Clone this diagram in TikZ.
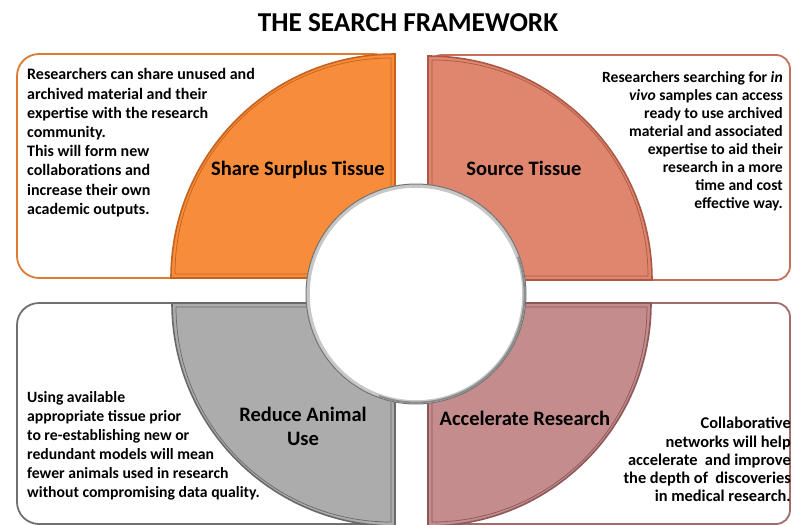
\documentclass[tikz,border=0pt]{standalone}
\usepackage{fontspec}
\setmainfont{Carlito}
\definecolor{orfill}{RGB}{247,140,58}
\definecolor{orline}{RGB}{196,98,30}
\definecolor{orbox}{RGB}{222,122,52}
\definecolor{safill}{RGB}{224,134,110}
\definecolor{saline}{RGB}{170,88,68}
\definecolor{sabox}{RGB}{198,112,92}
\definecolor{grfill}{RGB}{172,172,172}
\definecolor{grline}{RGB}{105,105,105}
\definecolor{grbox}{RGB}{112,112,112}
\definecolor{mafill}{RGB}{196,140,140}
\definecolor{maline}{RGB}{140,88,88}
\definecolor{mabox}{RGB}{160,108,108}
\begin{document}
\begin{tikzpicture}[x=1pt,y=-1pt,
  outerbox/.style={line width=1.8pt, fill=white},
  quadrant/.style={line width=1.6pt},
  bevelline/.style={line width=0.7pt},
  bodytext/.style={inner sep=0pt, font=\bfseries\fontsize{16}{19.2}\selectfont},
  bodytextr/.style={inner sep=0pt, font=\bfseries\fontsize{15.6}{18}\selectfont},
  labeltext/.style={inner sep=0pt, font=\bfseries\fontsize{20.5}{24}\selectfont}]
\useasboundingbox (0,0) rectangle (793,525);
\clip (0,0) rectangle (793,525);
\fill[white] (0,0) rectangle (793,525);

% title
\node[inner sep=0pt, anchor=base, font=\bfseries\fontsize{27.3}{31}\selectfont] (title) at (408,31) {THE SEARCH FRAMEWORK};

% outer boxes
\draw[outerbox, draw=orbox, rounded corners=22pt] (17,54) rectangle (395,278);
\draw[outerbox, draw=sabox, rounded corners=14pt] (428,55) rectangle (790,280);
\draw[outerbox, draw=grbox, rounded corners=22pt] (17,303) rectangle (395,524);
\draw[outerbox, draw=mabox, rounded corners=14pt] (428,303) rectangle (790,524);

% quadrants
\draw[quadrant, fill=orfill, draw=orline] (395,278) -- (171,278) arc[start angle=180, end angle=270, radius=224] -- cycle;
\draw[bevelline, draw=orline] (391,274) -- (175,274) arc[start angle=180, end angle=270, radius=216] -- cycle;

\draw[quadrant, fill=safill, draw=saline] (428,280) -- (428,56) arc[start angle=270, end angle=360, radius=224] -- cycle;
\draw[bevelline, draw=saline] (432,276) -- (432,60) arc[start angle=270, end angle=360, radius=216] -- cycle;

\draw[quadrant, fill=grfill, draw=grline] (395,303) -- (172,303) arc[start angle=180, end angle=90, radius=223] -- cycle;
\draw[bevelline, draw=grline] (391,307) -- (176,307) arc[start angle=180, end angle=90, radius=215] -- cycle;

\draw[quadrant, fill=mafill, draw=maline] (428,303) -- (651,303) arc[start angle=0, end angle=90, radius=223] -- cycle;
\draw[bevelline, draw=maline] (432,307) -- (647,307) arc[start angle=0, end angle=90, radius=215] -- cycle;

% central circle
\fill[white] (416,294) circle[radius=110];
\draw[line width=3.5pt, draw=black!22] (416,294) circle[radius=108];
\draw[line width=1pt, draw=black!55] (416,294) circle[radius=110];
\draw[line width=1.8pt, draw=black!45] (416,294) ++(-20:108.5) arc[start angle=-20, end angle=110, radius=108.5];
\node[circle, minimum size=214pt, inner sep=0pt] (hub) at (416,294) {};

% labels
\node[labeltext, anchor=base] (share) at (298,175) {Share Surplus Tissue};
\node[labeltext, anchor=base] (source) at (524,175) {Source Tissue};
\node[labeltext, anchor=north, align=center] (reduce) at (303,407) {Reduce Animal\\Use};
\node[labeltext, anchor=base] (accel) at (525,425) {Accelerate Research};

% body texts
\node[bodytext, anchor=north west, align=left] (tltext) at (27,68.5) {Researchers can share unused and\\archived material and their\\expertise with the research\\community.\\This will form new\\collaborations and\\increase their own\\academic outputs.};
\node[bodytextr, anchor=north east, align=right] (trtext) at (783,71) {Researchers searching for \textit{in}\\\textit{vivo} samples can access\\ready to use archived\\material and associated\\expertise to aid their\\research in a more\\time and cost\\effective way.};
\node[bodytext, font=\bfseries\fontsize{15.7}{19.1}\selectfont, anchor=north west, align=left] (bltext) at (27,391) {Using available\\appropriate tissue prior\\to re-establishing new or\\redundant models will mean\\fewer animals used in research\\without compromising data quality.};
\node[bodytextr, font=\bfseries\fontsize{16.4}{18.3}\selectfont, anchor=north east, align=right] (brtext) at (791,417) {Collaborative\\networks will help\\accelerate~ and improve\\the depth of~ discoveries\\in medical research.};
\end{tikzpicture}
\end{document}
